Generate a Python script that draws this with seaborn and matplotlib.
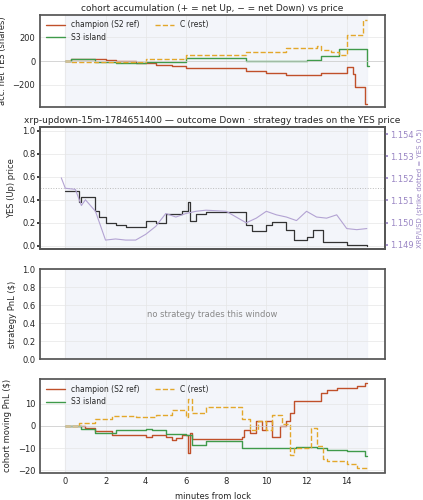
import numpy as np
import pandas as pd
import matplotlib
matplotlib.use('Agg')
import matplotlib.pyplot as plt
import seaborn as sns

# cohort accumulation (shares)
acc_t_champ = [0, 0.3, 2, 2.5, 3.5, 4.5, 5.3, 6, 9, 10, 11, 12.7, 14, 14.3, 14.4, 14.9, 15]
acc_champ = [0, 20, 10, 0, -20, -35, -45, -55, -80, -100, -120, -100, -50, -110, -220, -360, -360]
acc_t_s3 = [0, 0.3, 1.5, 2.5, 4, 6, 9, 12, 12.7, 13.6, 15, 15.1]
acc_s3 = [0, 20, -10, -20, -10, 30, 0, 10, 40, 100, -40, -40]
acc_t_c = [0, 0.3, 2, 4, 6, 7, 9, 11, 12.5, 12.7, 13.2, 13.6, 14, 14.8, 15]
acc_c = [0, -10, -5, 20, 50, 55, 80, 110, 125, 90, 80, 50, 220, 350, 350]

# YES price and XRP/USD
yes_t = [0, 0.7, 0.8, 1.5, 1.7, 2, 2.5, 3, 4, 4.5, 5, 5.8, 6.1, 6.2, 6.5, 7, 9, 9.3, 10, 10.3, 11, 11.4, 12, 12.3, 12.8, 14, 15]
yes_p = [0.48, 0.38, 0.42, 0.3, 0.25, 0.2, 0.18, 0.16, 0.22, 0.2, 0.28, 0.3, 0.38, 0.22, 0.28, 0.29, 0.18, 0.13, 0.18, 0.21, 0.14, 0.05, 0.08, 0.14, 0.03, 0.01, 0.0]
xrp_t = [-0.2, 0, 0.5, 0.8, 1, 1.5, 1.7, 2, 2.5, 3, 3.5, 4, 4.5, 5, 5.5, 6, 6.5, 7, 8, 9, 9.5, 10, 10.5, 11, 11.5, 12, 12.5, 13, 13.5, 14, 14.5, 15]
xrp = [1.15202, 1.15155, 1.15150, 1.15077, 1.15103, 1.15051, 1.14999, 1.14921, 1.14926, 1.14921, 1.14921, 1.14947, 1.14983, 1.15041, 1.15025, 1.15041, 1.15051, 1.15056, 1.15051, 1.14999, 1.15020, 1.15051, 1.15035, 1.15025, 1.15009, 1.15051, 1.15025, 1.15020, 1.15035, 1.14973, 1.14968, 1.14973]

# cohort moving PnL ($)
pnl_t_champ = [0, 1, 1.5, 2.3, 4, 4.3, 5, 5.3, 5.5, 5.8, 6.1, 6.2, 6.3, 8.8, 8.9, 9.2, 9.5, 9.8, 10, 10.3, 10.7, 11, 11.2, 11.4, 12.7, 13, 13.5, 14.5, 14.9, 15]
pnl_champ = [0, -1, -2.5, -4, -5, -4, -5, -6.5, -5.5, -4, -12, -3, -6, -5, -2, -3, 2, -2, 2, -5, 0, 2, 6, 11, 15, 16, 17, 18, 19.5, 19.5]
pnl_t_s3 = [0, 0.8, 1.5, 2.5, 4, 4.3, 5, 6, 6.3, 7, 8.8, 11.5, 12.5, 13, 14, 14.9, 15]
pnl_s3 = [0, -1.5, -3, -2, -1.5, -2, -3.5, -4, -8.5, -7, -10, -9.5, -10, -11, -11.5, -13.5, -13.5]
pnl_t_c = [0, 0.7, 1.5, 2.3, 3.5, 4.5, 5.3, 6, 6.1, 6.3, 7, 8.8, 9.2, 9.6, 10, 10.3, 10.8, 11.2, 11.4, 12.2, 12.5, 12.8, 13, 14, 14.5, 15]
pnl_c = [0, 1.5, 3, 4.5, 4, 5, 7, 4, 12, 6, 8.5, 3, -2, 2, -2, 5, 1, -13, -10, -1, -9, -15, -16, -17, -19, -19]

C_CHAMP = '#c0502a'
C_S3 = '#3f9a4a'
C_C = '#e3a72a'

sns.set_theme(style='whitegrid')
plt.rcParams['font.family'] = ['DejaVu Sans']
plt.rcParams.update({'font.size': 6, 'axes.titlesize': 6.5, 'axes.labelsize': 6,
                     'xtick.labelsize': 6, 'ytick.labelsize': 6, 'legend.fontsize': 5.5,
                     'axes.edgecolor': '#555555', 'grid.color': '#e6e6e6', 'grid.linewidth': 0.5})

fig, axes = plt.subplots(4, 1, figsize=(4.23, 5), dpi=100, sharex=True,
                         gridspec_kw={'height_ratios': [92, 122, 90, 93]})

def steps(ax, t, v, color, label, ls='-'):
    sns.lineplot(x=t, y=v, ax=ax, color=color, label=label, drawstyle='steps-post',
                 linestyle=ls, linewidth=1.0, estimator=None, sort=False)

for ax in axes:
    ax.axvspan(0, 15, color='#eef1f8', alpha=0.7, zorder=0)
    ax.tick_params(length=2, pad=1.5)

ax = axes[0]
steps(ax, acc_t_champ, acc_champ, C_CHAMP, 'champion (S2 ref)')
steps(ax, acc_t_s3, acc_s3, C_S3, 'S3 island')
steps(ax, acc_t_c, acc_c, C_C, 'C (rest)', '--')
ax.axhline(0, color='#cccccc', lw=0.5)
ax.set_ylim(-390, 390)
ax.set_yticks([-200, 0, 200])
ax.set_ylabel('acc. net YES (shares)')
ax.set_title('cohort accumulation (+ = net Up, − = net Down) vs price', pad=3)
ax.legend(loc='upper left', ncol=2, frameon=False, handlelength=2.5, borderaxespad=0.3)

ax = axes[1]
sns.lineplot(x=yes_t, y=yes_p, ax=ax, color='#333333', drawstyle='steps-post', linewidth=0.9,
             estimator=None, sort=False)
ax.axhline(0.5, color='#bbbbbb', lw=0.7, ls=':')
ax.set_ylim(-0.03, 1.03)
ax.set_ylabel('YES (Up) price')
ax.set_title('xrp-updown-15m-1784651400 — outcome Down · strategy trades on the YES price', pad=3)
ax2 = ax.twinx()
sns.lineplot(x=xrp_t, y=xrp, ax=ax2, color='#b3a3d3', linewidth=0.8, estimator=None, sort=False)
lo = 1.149 + (-0.03 - 0.01) * 0.005 / 0.96
hi = 1.149 + (1.03 - 0.01) * 0.005 / 0.96
ax2.set_ylim(lo, hi)
ax2.set_yticks([1.149, 1.150, 1.151, 1.152, 1.153, 1.154])
ax2.grid(False)
ax2.tick_params(colors='#9a86c4', length=2, pad=1.5)
ax2.set_ylabel('XRP/USD (strike dotted = YES 0.5)', color='#9a86c4', fontsize=5, labelpad=2)

ax = axes[2]
ax.set_ylim(0, 1)
ax.set_ylabel('strategy PnL ($)')
ax.text(0.5, 0.5, 'no strategy trades this window', transform=ax.transAxes,
        ha='center', va='center', color='#888888', fontsize=6)

ax = axes[3]
steps(ax, pnl_t_champ, pnl_champ, C_CHAMP, 'champion (S2 ref)')
steps(ax, pnl_t_s3, pnl_s3, C_S3, 'S3 island')
steps(ax, pnl_t_c, pnl_c, C_C, 'C (rest)', '--')
ax.axhline(0, color='#cccccc', lw=0.5)
ax.set_ylim(-21, 21)
ax.set_yticks([-20, -10, 0, 10])
ax.set_ylabel('cohort moving PnL ($)')
ax.set_xlabel('minutes from lock')
ax.legend(loc='upper left', ncol=2, frameon=False, handlelength=2.5, borderaxespad=0.3)
ax.set_xlim(-1.25, 15.9)
ax.set_xticks([0, 2, 4, 6, 8, 10, 12, 14])

fig.subplots_adjust(left=0.095, right=0.91, top=0.97, bottom=0.055, hspace=0.2)
fig.savefig('out.png', dpi=100)
